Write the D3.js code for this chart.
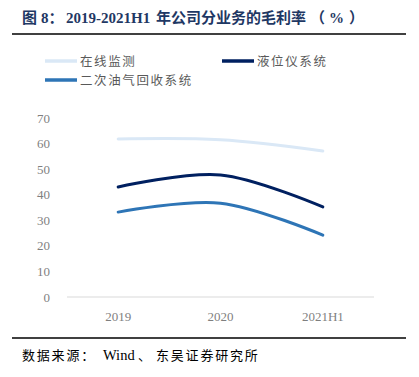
<!DOCTYPE html>
<html>
<head>
<meta charset="utf-8">
<script src="https://cdn.jsdelivr.net/npm/d3@7"></script>
<style>
  body { margin: 0; background: #fff; }
  svg { display: block; }
</style>
</head>
<body>
<div id="chart"></div>
<script>
// data
var years = ["2019", "2020", "2021H1"];
var seriesNames = ["在线监测", "液位仪系统", "二次油气回收系统"];
var onlineMonitor = [61.8, 61.5, 57.1];
var levelGauge = [43.0, 47.7, 35.2];
var vaporRecovery = [33.2, 36.7, 24.2];
var yTicks = [0, 10, 20, 30, 40, 50, 60, 70];

var colors = ["#dae8f6", "#002060", "#2e75b6"];
var allSeries = [onlineMonitor, levelGauge, vaporRecovery];

var svgWidth = 419, svgHeight = 377;
var margin = { top: 118, right: 45, bottom: 80, left: 67 };
var width = svgWidth - margin.left - margin.right;
var height = svgHeight - margin.top - margin.bottom;

var serif = "'Liberation Serif', 'Times New Roman', serif";
var cjk = "'Noto Sans CJK SC', sans-serif";

var svg = d3.select("#chart").append("svg")
  .attr("width", svgWidth)
  .attr("height", svgHeight);

// title, placed in pieces to keep the wide spacing of the original
var titleParts = [
  { t: "图", x: 22, f: cjk },
  { t: "8：", x: 41, f: serif + ", " + cjk },
  { t: "2019-2021H1", x: 66, f: serif },
  { t: "年公司分业务的毛利率", x: 156, f: cjk },
  { t: "（", x: 310, f: cjk },
  { t: "%", x: 329, f: serif },
  { t: "）", x: 349, f: cjk }
];
svg.selectAll(".title")
  .data(titleParts)
  .enter()
  .append("text")
  .attr("class", "title")
  .attr("x", d => d.x).attr("y", 23)
  .attr("fill", "#1f3864")
  .attr("font-family", d => d.f)
  .attr("font-weight", "bold")
  .attr("font-size", 15)
  .text(d => d.t);

// rules
svg.append("line").attr("x1", 12).attr("x2", 406).attr("y1", 34).attr("y2", 34)
  .attr("stroke", "#000").attr("stroke-width", 1.5);
svg.append("line").attr("x1", 12).attr("x2", 406).attr("y1", 338).attr("y2", 338)
  .attr("stroke", "#000").attr("stroke-width", 1.5);

// source
var sourceParts = [
  { t: "数据来源：", x: 22, f: cjk, ls: 1.8, s: 13 },
  { t: "Wind", x: 103, f: serif, ls: 0, s: 14.5 },
  { t: "、", x: 138, f: cjk, ls: 0, s: 13 },
  { t: "东吴证券研究所", x: 156, f: cjk, ls: 1.8, s: 13 }
];
svg.selectAll(".source")
  .data(sourceParts)
  .enter()
  .append("text")
  .attr("class", "source")
  .attr("x", d => d.x).attr("y", 360)
  .attr("fill", "#000")
  .attr("font-family", d => d.f)
  .attr("font-size", d => d.s)
  .attr("letter-spacing", d => d.ls)
  .text(d => d.t);

// legend
var legendPos = [[45, 61], [222, 61], [45, 80]];
seriesNames.forEach(function (name, i) {
  var p = legendPos[i];
  svg.append("line")
    .attr("x1", p[0]).attr("x2", p[0] + 32)
    .attr("y1", p[1]).attr("y2", p[1])
    .attr("stroke", colors[i]).attr("stroke-width", 3.5);
  svg.append("text")
    .attr("x", p[0] + 35).attr("y", p[1] + 5)
    .attr("fill", "#595959")
    .attr("font-family", cjk)
    .attr("font-size", 12.5)
    .attr("letter-spacing", 1.6)
    .text(name);
});

var chartGroup = svg.append("g")
  .attr("transform", `translate(${margin.left}, ${margin.top})`);

var x = d3.scalePoint().domain(years).range([0, width]).padding(0.5);
var y = d3.scaleLinear().domain([0, 70]).range([height, 0]);

// y axis labels
chartGroup.selectAll(".ytick")
  .data(yTicks)
  .enter()
  .append("text")
  .attr("class", "ytick")
  .attr("x", -17)
  .attr("y", d => y(d) + 4.5)
  .attr("text-anchor", "end")
  .attr("fill", "#7f7f7f")
  .attr("font-family", serif)
  .attr("font-size", 13)
  .text(d => d);

// baseline
chartGroup.append("line")
  .attr("x1", 0).attr("x2", width)
  .attr("y1", y(0)).attr("y2", y(0))
  .attr("stroke", "#d9d9d9").attr("stroke-width", 1);

// x labels
chartGroup.selectAll(".xtick")
  .data(years)
  .enter()
  .append("text")
  .attr("class", "xtick")
  .attr("x", d => x(d))
  .attr("y", height + 24)
  .attr("text-anchor", "middle")
  .attr("fill", "#7f7f7f")
  .attr("font-family", serif)
  .attr("font-size", 13)
  .text(d => d);

// smoothed lines
var line = d3.line()
  .x((d, i) => x(years[i]))
  .y(d => y(d))
  .curve(d3.curveCatmullRom.alpha(0.5));

chartGroup.selectAll(".series")
  .data(allSeries)
  .enter()
  .append("path")
  .attr("class", "series")
  .attr("d", d => line(d))
  .attr("fill", "none")
  .attr("stroke", (d, i) => colors[i])
  .attr("stroke-width", 3)
  .attr("stroke-linecap", "round");
</script>
</body>
</html>
